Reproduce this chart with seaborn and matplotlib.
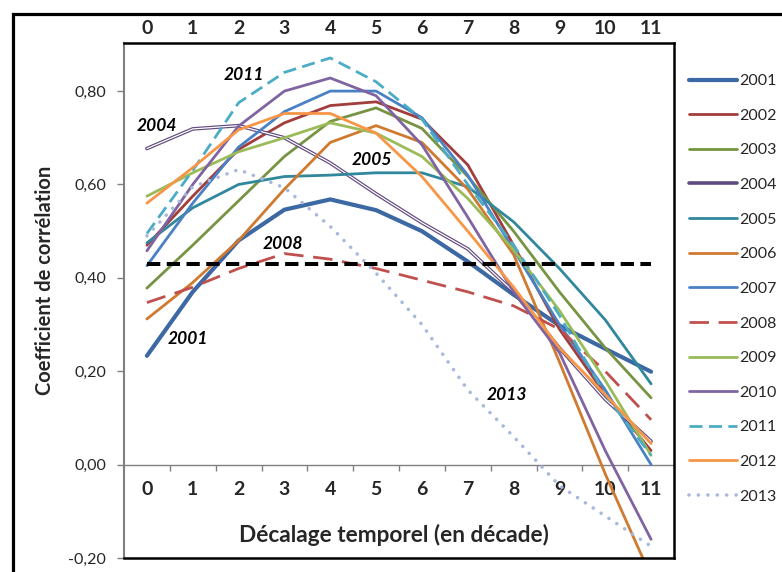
import matplotlib
matplotlib.use("Agg")
import matplotlib.pyplot as plt
from matplotlib.patches import Rectangle
from matplotlib.ticker import FuncFormatter
import seaborn as sns
import pandas as pd

# Données -------------------------------------------------------------------#
decalages = [0, 1, 2, 3, 4, 5, 6, 7, 8, 9, 10, 11]
annees = ['2001', '2002', '2003', '2004', '2005', '2006', '2007',
          '2008', '2009', '2010', '2011', '2012', '2013']

c2001 = [0.233, 0.37, 0.48, 0.546, 0.568, 0.545, 0.50, 0.435, 0.364, 0.298, 0.248, 0.199]
c2002 = [0.47, 0.575, 0.675, 0.732, 0.769, 0.777, 0.74, 0.642, 0.47, 0.29, 0.15, 0.03]
c2003 = [0.378, 0.47, 0.565, 0.66, 0.735, 0.764, 0.72, 0.617, 0.50, 0.37, 0.25, 0.143]
c2004 = [0.677, 0.719, 0.726, 0.70, 0.646, 0.58, 0.518, 0.462, 0.37, 0.25, 0.14, 0.05]
c2005 = [0.475, 0.55, 0.60, 0.617, 0.62, 0.625, 0.625, 0.595, 0.52, 0.42, 0.31, 0.173]
c2006 = [0.312, 0.39, 0.48, 0.59, 0.69, 0.726, 0.69, 0.59, 0.45, 0.22, -0.02, -0.24]
c2007 = [0.426, 0.56, 0.68, 0.756, 0.80, 0.80, 0.743, 0.62, 0.46, 0.30, 0.16, 0.0]
c2008 = [0.347, 0.38, 0.42, 0.452, 0.44, 0.42, 0.395, 0.37, 0.34, 0.29, 0.20, 0.096]
c2009 = [0.575, 0.625, 0.67, 0.70, 0.732, 0.71, 0.66, 0.57, 0.46, 0.33, 0.18, 0.02]
c2010 = [0.458, 0.60, 0.725, 0.80, 0.828, 0.79, 0.685, 0.53, 0.37, 0.24, 0.03, -0.16]
c2011 = [0.495, 0.63, 0.775, 0.84, 0.871, 0.82, 0.74, 0.60, 0.47, 0.32, 0.15, 0.02]
c2012 = [0.56, 0.636, 0.717, 0.752, 0.752, 0.71, 0.617, 0.50, 0.38, 0.25, 0.15, 0.045]
c2013 = [0.49, 0.595, 0.632, 0.593, 0.51, 0.41, 0.30, 0.16, 0.06, -0.045, -0.11, -0.175]

seuil = 0.43

# étiquettes écrites dans le graphique
etiquettes = ['2011', '2004', '2005', '2008', '2001', '2013']
etiq_x = [2.12, 0.22, 4.91, 2.97, 0.895, 7.86]
etiq_y = [0.835, 0.726, 0.653, 0.473, 0.268, 0.15]

yticks = [-0.2, 0.0, 0.2, 0.4, 0.6, 0.8]

series = [c2001, c2002, c2003, c2004, c2005, c2006, c2007,
          c2008, c2009, c2010, c2011, c2012, c2013]

df = pd.DataFrame({
    'annee': [a for a in annees for _ in decalages],
    'decalage': decalages * len(annees),
    'coef': [v for s in series for v in s],
})

# Styles des courbes
styles = {
    '2001': dict(color='#3C68A3', lw=3.0),
    '2002': dict(color='#A23D3B', lw=2.0),
    '2003': dict(color='#779443', lw=2.0),
    '2004': dict(color='#604A7E', lw=2.6),
    '2005': dict(color='#31879C', lw=2.0),
    '2006': dict(color='#D07A30', lw=2.0),
    '2007': dict(color='#4A80C4', lw=2.0),
    '2008': dict(color='#C0504D', lw=2.0, ls=(0, (7, 3.5))),
    '2009': dict(color='#9BBB59', lw=2.0),
    '2010': dict(color='#8064A2', lw=2.0),
    '2011': dict(color='#4BACC6', lw=2.0, ls=(0, (4.7, 2.3))),
    '2012': dict(color='#F79646', lw=2.0),
    '2013': dict(color='#A7B9DA', lw=2.6, ls=(0, (0.01, 2.6)), dash_capstyle='round'),
}

sns.set_style("white")
plt.rcParams['font.family'] = ['Lato', 'DejaVu Sans']

fig = plt.figure(figsize=(7.82, 5.72), dpi=100)
ax = fig.add_axes([124 / 782, 1 - 558 / 572, 550 / 782, 515 / 572])

ymin, ymax = -0.2, 0.903
ax.set_xlim(-0.5, 11.5)
ax.set_ylim(ymin, ymax)

for a in annees:
    d = df[df['annee'] == a]
    sns.lineplot(data=d, x='decalage', y='coef', ax=ax, label=a, **styles[a])
    if a == '2004':
        # ligne double : trait blanc au milieu
        sns.lineplot(data=d, x='decalage', y='coef', ax=ax, color='white', lw=0.9,
                     label='_nolegend_')

ax.hlines(seuil, min(decalages), max(decalages), colors='black', lw=2.9,
          linestyles=(0, (3.3, 1.6)), zorder=5)

for t, x, y in zip(etiquettes, etiq_x, etiq_y):
    ax.text(x, y, t, ha='center', va='center', fontsize=12.5, fontweight='bold',
            style='italic', color='black')

if ax.get_legend() is not None:
    ax.get_legend().remove()

# axe des x en haut
ax.set_xticks(decalages)
ax.xaxis.set_ticks_position('top')
ax.tick_params(axis='x', length=0, pad=4, labelsize=14)
ax.set_xticklabels([str(d) for d in decalages], fontweight='bold')
ax.set_xlabel('')
ax.set_ylabel('')

# axe des y
ax.set_yticks(yticks)
ax.yaxis.set_major_formatter(FuncFormatter(lambda v, p: f"{v:.2f}".replace('.', ',')))
ax.tick_params(axis='y', left=True, direction='out', length=5, width=1,
               color='#808080', pad=8, labelsize=11.5)

for s in ['top', 'right', 'bottom']:
    ax.spines[s].set_color('black')
    ax.spines[s].set_linewidth(1.8)
ax.spines['left'].set_color('#808080')
ax.spines['left'].set_linewidth(1.5)

# axe des x à y = 0
sec = ax.secondary_xaxis((0 - ymin) / (ymax - ymin))
sec.set_xticks(decalages)
sec.set_xticklabels([str(d) for d in decalages], fontweight='bold', fontsize=14)
sec.set_xticks([d + 0.5 for d in decalages[:-1]], minor=True)
sec.tick_params(which='major', length=0, pad=12)
sec.tick_params(which='minor', length=4, width=1, color='#808080', direction='out')
sec.spines['bottom'].set_color('#808080')
sec.spines['bottom'].set_linewidth(1.0)

ax.text(0.49, 0.045, 'Décalage temporel (en décade)', transform=ax.transAxes,
        ha='center', va='center', fontsize=16.3, fontweight='bold')
ax.text(-0.1436, 0.54, 'Coefficient de corrélation', transform=ax.transAxes,
        rotation=90, ha='center', va='center', fontsize=14.5, fontweight='bold')

handles, labels = ax.get_legend_handles_labels()
fig.legend(handles, labels, loc='upper left', bbox_to_anchor=(689 / 782, 1 - 74 / 572),
           frameon=False, fontsize=11.5, handlelength=3.0, handletextpad=0.15,
           labelspacing=1.28, borderpad=0, borderaxespad=0)

# cadre extérieur
fig.add_artist(Rectangle((13.5 / 782, -0.1), 1.2, 1.1 - 13.5 / 572, transform=fig.transFigure,
                         fill=False, edgecolor='black', lw=2.3, clip_on=False))

fig.savefig('out.png', dpi=100)
